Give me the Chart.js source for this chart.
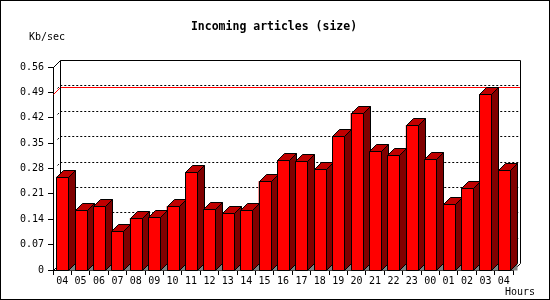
<!DOCTYPE html>
<html>
<head>
<meta charset="utf-8">
<script src="https://cdn.jsdelivr.net/npm/chart.js@4.4.1/dist/chart.umd.min.js"></script>
<style>
html, body { margin: 0; padding: 0; background: #fff; }
#wrap { width: 550px; height: 300px; }
</style>
</head>
<body>
<div id="wrap"><canvas id="chart" width="550" height="300"></canvas></div>
<script>
let hours = ["04", "05", "06", "07", "08", "09", "10", "11", "12", "13", "14", "15", "16",
             "17", "18", "19", "20", "21", "22", "23", "00", "01", "02", "03", "04"];
let sizes = [0.257, 0.165, 0.176, 0.107, 0.143, 0.145, 0.176, 0.270, 0.167, 0.156, 0.165, 0.245, 0.303,
             0.300, 0.278, 0.370, 0.433, 0.328, 0.316, 0.399, 0.305, 0.181, 0.225, 0.485, 0.275];
let yTickValues = [0, 0.07, 0.14, 0.21, 0.28, 0.35, 0.42, 0.49, 0.56];

const DX = 7, DY = 7;
const FONT = "'DejaVu Sans Mono', monospace";

Chart.defaults.font.family = FONT;
Chart.defaults.font.size = 10;
Chart.defaults.color = "#000";

function poly(ctx, pts, fill) {
    ctx.beginPath();
    ctx.moveTo(pts[0][0], pts[0][1]);
    for (let i = 1; i < pts.length; i++) ctx.lineTo(pts[i][0], pts[i][1]);
    ctx.closePath();
    ctx.fillStyle = fill;
    ctx.fill();
    ctx.stroke();
}

// back wall, grid lines and peak line
const wall = {
    id: "wall",
    beforeDatasetsDraw(chart) {
        let ctx = chart.ctx, a = chart.chartArea, y = chart.scales.y;
        let L = Math.round(a.left) + 0.5, R = Math.round(a.right) + 0.5;
        let T = Math.round(a.top) + 0.5, B = Math.round(a.bottom) + 0.5;
        ctx.save();
        ctx.lineWidth = 1;
        ctx.strokeStyle = "#000";

        ctx.setLineDash([2, 2]);
        yTickValues.slice(1, -1).forEach(v => {
            let py = Math.round(y.getPixelForValue(v)) + 0.5;
            ctx.beginPath();
            ctx.moveTo(L + 4, py - 4);
            ctx.lineTo(L + DX, py - DY);
            ctx.lineTo(R + DX, py - DY);
            ctx.stroke();
        });
        ctx.setLineDash([]);

        let peak = Math.round(y.getPixelForValue(Math.max(...sizes))) + 0.5;
        ctx.strokeStyle = "#f00";
        ctx.beginPath();
        ctx.moveTo(L, peak);
        ctx.lineTo(L + DX, peak - DY);
        ctx.lineTo(R + DX, peak - DY);
        ctx.stroke();

        ctx.strokeStyle = "#000";
        ctx.beginPath();
        ctx.moveTo(L, T);
        ctx.lineTo(L + DX, T - DY);
        ctx.lineTo(R + DX, T - DY);
        ctx.lineTo(R + DX, B - DY);
        ctx.lineTo(R, B);
        ctx.moveTo(L + DX, T - DY);
        ctx.lineTo(L + DX, B - DY);
        ctx.lineTo(L, B);
        ctx.stroke();
        ctx.restore();
    },
    afterDatasetsDraw(chart) {
        let ctx = chart.ctx;
        ctx.save();
        ctx.lineWidth = 1;
        ctx.strokeStyle = "#000";
        chart.getDatasetMeta(0).data.forEach(bar => {
            let l = Math.round(bar.x - bar.width / 2) + 0.5;
            let r = Math.round(bar.x + bar.width / 2) + 0.5;
            let t = Math.round(bar.y) + 0.5;
            let b = Math.round(bar.base) + 0.5;
            ctx.fillStyle = "#808080";
            ctx.beginPath();
            ctx.moveTo(r, b); ctx.lineTo(r + DX, b - DY); ctx.lineTo(r + DX, b);
            ctx.closePath();
            ctx.fill();
            poly(ctx, [[r, t], [r + DX, t - DY], [r + DX, b - DY], [r, b]], "#800000");
            poly(ctx, [[l, t], [l + DX, t - DY], [r + DX, t - DY], [r, t]], "#c00000");
            poly(ctx, [[l, t], [r, t], [r, b], [l, b]], "#ff0000");
        });
        ctx.restore();
    },
    afterDraw(chart) {
        let ctx = chart.ctx;
        ctx.save();
        ctx.fillStyle = "#000";
        ctx.textBaseline = "middle";
        ctx.textAlign = "center";
        ctx.font = "bold 11.5px " + FONT;
        ctx.fillText("Incoming articles (size)", 274, 27);
        ctx.textAlign = "left";
        ctx.font = "10px " + FONT;
        ctx.fillText("Kb/sec", 29, 37);
        ctx.fillText("Hours", 505, 292);
        ctx.strokeStyle = "#000";
        ctx.lineWidth = 1;
        ctx.strokeRect(0.5, 0.5, 549, 299);
        ctx.restore();
    }
};

new Chart(document.getElementById("chart"), {
    type: "bar",
    data: {
        labels: hours,
        datasets: [{
            data: sizes,
            backgroundColor: "#ff0000",
            borderWidth: 0,
            categoryPercentage: 1,
            barPercentage: 0.65
        }]
    },
    options: {
        responsive: false,
        animation: false,
        devicePixelRatio: 1,
        layout: { padding: { top: 67, right: 37, left: 0, bottom: 0 } },
        plugins: { legend: { display: false }, tooltip: { enabled: false } },
        scales: {
            x: {
                afterFit: s => { s.height = 30; },
                grid: { drawOnChartArea: false, tickLength: 5, tickColor: "#000", offset: true },
                border: { color: "#000" },
                ticks: { maxRotation: 0, autoSkip: false, padding: 0 }
            },
            y: {
                min: yTickValues[0],
                max: yTickValues[yTickValues.length - 1],
                afterFit: s => { s.width = 53; },
                afterBuildTicks: s => { s.ticks = yTickValues.map(v => ({ value: v })); },
                grid: { drawOnChartArea: false, tickLength: 5, tickColor: "#000" },
                border: { color: "#000" },
                ticks: {
                    padding: 4,
                    callback: v => v === 0 ? "0" : v.toFixed(2)
                }
            }
        }
    },
    plugins: [wall]
});
</script>
</body>
</html>
